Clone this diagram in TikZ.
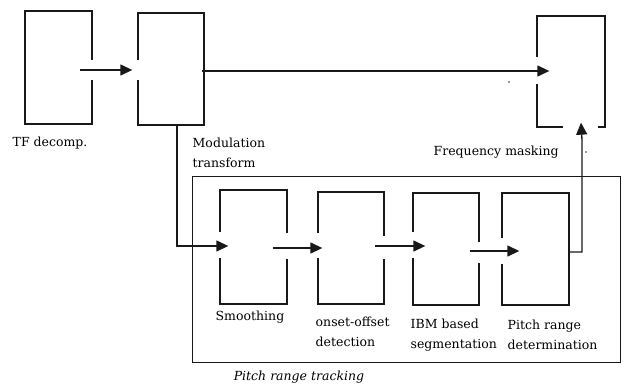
\documentclass[tikz,border=0pt]{standalone}
\usepackage{fontspec}
\setmainfont{DejaVu Serif}
\usetikzlibrary{arrows.meta,calc}
\begin{document}
\begin{tikzpicture}[x=1pt,y=-1pt,
  line width=1.35pt, draw=black!90,
  blk/.style={rectangle,draw=none,inner sep=0pt},
  arr/.style={-{Triangle[length=12pt,width=11pt]}},
  lbl/.style={font=\fontsize{12.5}{20}\selectfont,inner sep=0pt,align=left,text=black},
  outline/.style={line join=miter}]
\useasboundingbox (0,0) rectangle (626,385);

% block frames (invisible nodes carry the names)
\node[blk,minimum width=67pt,minimum height=113pt] (tf)  at (58.5,67.5) {};
\node[blk,minimum width=66pt,minimum height=112pt] (mod) at (171,69) {};
\node[blk,minimum width=68pt,minimum height=111pt] (fm)  at (571,71.5) {};
\node[blk,minimum width=67pt,minimum height=114pt] (sm)  at (253.5,247) {};
\node[blk,minimum width=66pt,minimum height=112pt] (on)  at (351,248) {};
\node[blk,minimum width=66pt,minimum height=112pt] (ibm) at (446,249) {};
\node[blk,minimum width=67pt,minimum height=112pt] (prd) at (535.5,249) {};
\node[blk,minimum width=427pt,minimum height=185pt] (prt) at (406.5,269.5) {};

% outlines with openings where the arrows pass
\draw[outline] (92,60) -- (92,11) -- (25,11) -- (25,124) -- (92,124) -- (92,80);
\draw[outline] (138,60) -- (138,13) -- (204,13) -- (204,125) -- (138,125) -- (138,80);
\draw[outline] (537,57) -- (537,16) -- (605,16) -- (605,127) -- (598,127);
\draw[outline] (563,127) -- (537,127) -- (537,84);
\draw[outline] (220,232) -- (220,190) -- (287,190) -- (287,233);
\draw[outline] (287,259) -- (287,304) -- (220,304) -- (220,258);
\draw[outline] (318,233) -- (318,192) -- (384,192) -- (384,236);
\draw[outline] (384,259) -- (384,304) -- (318,304) -- (318,258);
\draw[outline] (413,232) -- (413,193) -- (479,193) -- (479,242);
\draw[outline] (479,263) -- (479,305) -- (413,305) -- (413,258);
\draw[outline] (502,238) -- (502,193) -- (569,193) -- (569,305) -- (502,305) -- (502,264);
\draw (prt.north west) rectangle (prt.south east);

% connectors
\draw[arr] ($(tf.east)+(-13,2.5)$) -- ($(mod.west)+(-5,1)$);
\draw[arr] ($(mod.east)+(-3,2)$) -- ($(fm.west)+(13,-0.5)$);
\draw[arr] (mod.south -| 177,0) -- (177,246) -- ($(sm.west)+(9,-1)$);
\draw[arr] ($(sm.east)+(-15,1)$) -- ($(on.west)+(5,0)$);
\draw[arr] ($(on.east)+(-10,-2)$) -- ($(ibm.west)+(13,-3)$);
\draw[arr] ($(ibm.east)+(-10,2)$) -- ($(prd.west)+(18,2)$);
\draw[arr] ($(prd.east)+(0,3)$) -- (582,252) -- (582,140) -- ($(fm.south)+(10,-5)$);

% stray specks
\fill[black!80] (509,82) circle (0.8pt);
\fill[black!80] (586,152) circle (0.8pt);

% labels
\node[lbl,anchor=west] (ltf) at (12,143) {TF decomp.};
\node[lbl,anchor=west] (lmod) at (192,152.5) {Modulation\\transform};
\node[lbl,anchor=west] (lfm) at (433,152) {Frequency masking};
\node[lbl,anchor=west] (lsm) at (215,317) {Smoothing};
\node[lbl,anchor=west] (lon) at (315,332) {onset-offset\\detection};
\node[lbl,anchor=west] (libm) at (410,335) {IBM based\\segmentation};
\node[lbl,anchor=west] (lprd) at (507,335) {Pitch range\\determination};
\node[lbl,font=\fontsize{12.5}{14}\itshape\selectfont] (lprt) at (299,377) {Pitch range tracking};
\end{tikzpicture}
\end{document}
